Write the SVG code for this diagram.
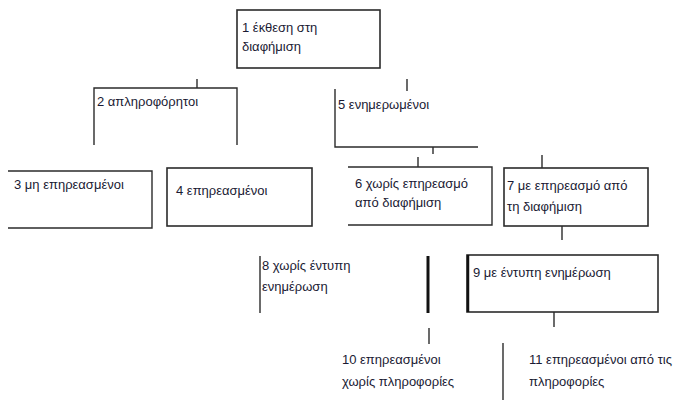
<svg xmlns="http://www.w3.org/2000/svg" width="688" height="400" viewBox="0 0 688 400">
<style>
.ln{stroke:#2b2b2b;stroke-width:1.4;fill:none}
.tk{stroke:#111;stroke-width:3;fill:none}
.bx{stroke:#2b2b2b;stroke-width:1.6;fill:#fff}
text{font-family:"Liberation Sans","DejaVu Sans",sans-serif;font-size:13px;fill:#1a1a33}
</style>
<rect width="688" height="400" fill="#fff"/>
<g id="n1"><rect class="bx" x="237" y="10" width="143" height="58"/><text x="242" y="32">1 έκθεση στη</text><text x="242" y="51">διαφήμιση</text></g>
<g id="n2"><path class="ln" d="M94,145 V88 H237 V145"/><text x="97" y="106">2 απληροφόρητοι</text></g>
<g id="n5"><path class="ln" d="M335,89 V147 H478"/><text x="338" y="109">5 ενημερωμένοι</text></g>
<g id="n3"><path class="ln" d="M8,171 H152 V228 H8"/><text x="14" y="189">3 μη επηρεασμένοι</text></g>
<g id="n4"><rect class="bx" x="167" y="168" width="145" height="58"/><text x="176" y="195">4 επηρεασμένοι</text></g>
<g id="n6"><path class="ln" d="M348,167 H492 V225 H348"/><text x="355" y="188">6 χωρίς επηρεασμό</text><text x="355" y="207">από διαφήμιση</text></g>
<g id="n7"><rect class="bx" x="504" y="168" width="144" height="58"/><text x="507" y="190">7 με επηρεασμό από</text><text x="507" y="211">τη διαφήμιση</text></g>
<g id="n8"><path class="ln" d="M260,256 V313"/><text x="262" y="270">8 χωρίς έντυπη</text><text x="262" y="291">ενημέρωση</text></g>
<g id="n9"><rect class="bx" x="467" y="255" width="191" height="57"/><path class="tk" d="M468,255 V312" style="stroke-width:2.5"/><text x="473" y="277">9 με έντυπη ενημέρωση</text></g>
<g id="n10"><text x="342" y="364">10 επηρεασμένοι</text><text x="342" y="386">χωρίς πληροφορίες</text></g>
<g id="n11"><text x="529" y="364">11 επηρεασμένοι από τις</text><text x="529" y="386">πληροφορίες</text></g>
<g id="connectors">
<path class="ln" d="M197,79 V88"/>
<path class="ln" d="M407,79 V91"/>
<path class="ln" d="M433,147 V154"/>
<path class="ln" d="M418,157 V167"/>
<path class="ln" d="M542,155 V168"/>
<path class="ln" d="M562,226 V240"/>
<path class="tk" d="M428,256 V313"/>
<path class="ln" d="M554,312 V327"/>
<path class="ln" d="M429,328 V344"/>
<path class="ln" d="M503,343 V400"/>
</g>
</svg>
